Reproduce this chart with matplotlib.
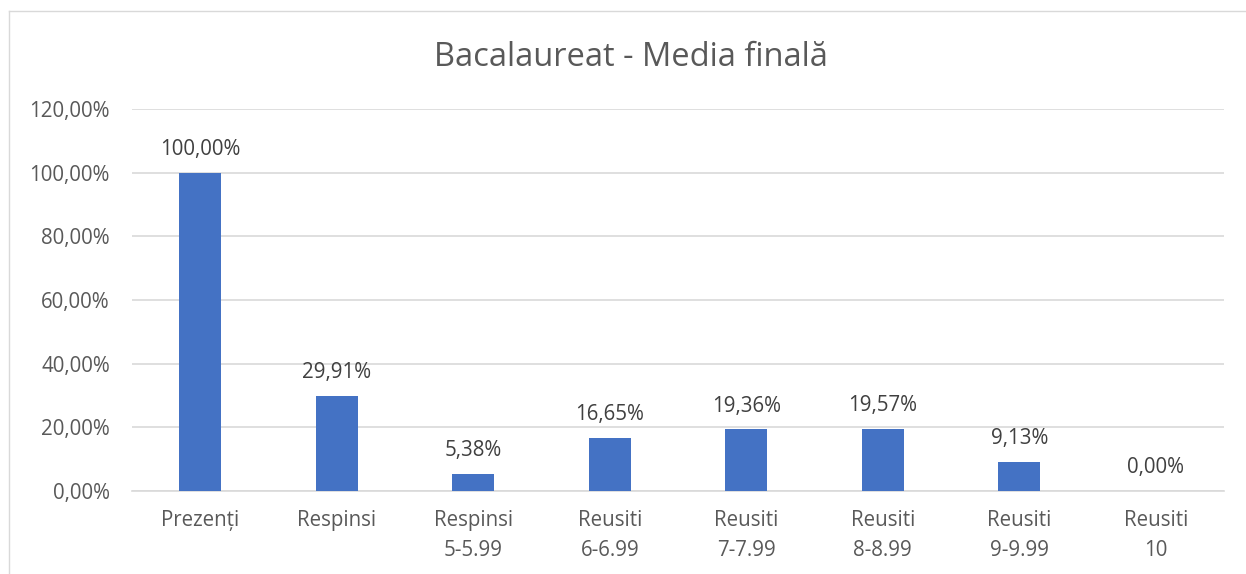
import matplotlib
matplotlib.use("Agg")
import matplotlib.pyplot as plt
from matplotlib.lines import Line2D

categories = ["Prezenți", "Respinsi", "Respinsi\n5-5.99", "Reusiti\n6-6.99", "Reusiti\n7-7.99",
              "Reusiti\n8-8.99", "Reusiti\n9-9.99", "Reusiti\n10"]
values = [100.00, 29.91, 5.38, 16.65, 19.36, 19.57, 9.13, 0.00]
yticks = [0, 20, 40, 60, 80, 100, 120]
title = "Bacalaureat - Media finală"

def pct(v):
    return f"{v:.2f}".replace(".", ",") + "%"

plt.rcParams['font.family'] = ['Open Sans', 'DejaVu Sans']
text_color = "#595959"
label_color = "#404040"
bar_color = "#4472C4"
grid_color = "#D9D9D9"

fig = plt.figure(figsize=(12.46, 5.74), dpi=100)
ax = fig.add_axes([132/1246, (574-491)/574, 1092/1246, (491-109)/574])

x = list(range(len(categories)))
ax.bar(x, values, width=0.31, color=bar_color, zorder=3)
ax.set_xlim(-0.5, len(categories) - 0.5)
ax.set_ylim(0, 120)
ax.set_yticks(yticks)
ax.set_yticklabels([pct(v) for v in yticks], fontsize=14.8, color=text_color)
ax.set_xticks(x)
ax.set_xticklabels(categories, fontsize=14.8, color=text_color, linespacing=1.55)
ax.tick_params(axis='both', length=0)
ax.tick_params(axis='y', pad=16)
ax.tick_params(axis='x', pad=14)
ax.grid(axis='y', color=grid_color, linewidth=1.2, zorder=0)
for s in ["top", "right", "left"]:
    ax.spines[s].set_visible(False)
ax.spines["bottom"].set_color(grid_color)
ax.spines["bottom"].set_linewidth(1.2)

for xi, v in zip(x, values):
    ax.annotate(pct(v), (xi, v), xytext=(0, 9), textcoords="offset points",
                ha="center", va="bottom", fontsize=14.8, color=label_color)

fig.text(631/1246, 1 - 58/574, title, ha="center", va="center", fontsize=23.5, color=text_color)

# chart border (left and top)
fig.add_artist(Line2D([9/1246, 9/1246], [0, 1 - 11/574], transform=fig.transFigure, color="#D9D9D9", linewidth=1))
fig.add_artist(Line2D([9/1246, 1], [1 - 11/574, 1 - 11/574], transform=fig.transFigure, color="#D9D9D9", linewidth=1))

fig.savefig("out.png", dpi=100, facecolor="white")
